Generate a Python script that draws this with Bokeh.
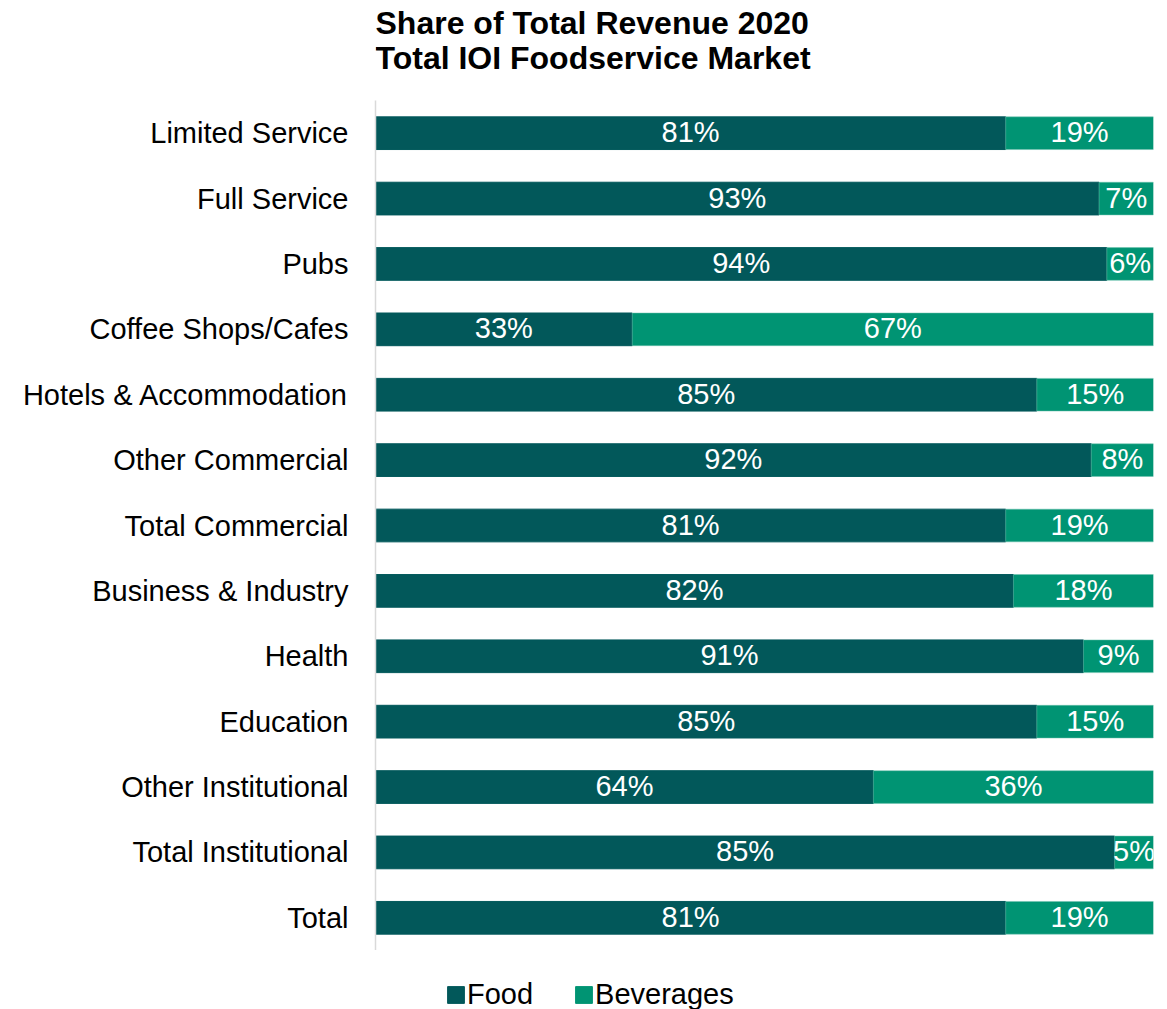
from bokeh.plotting import figure
from bokeh.models import ColumnDataSource, Legend, LegendItem, FactorRange
from bokeh.layouts import column
from bokeh.core.properties import value
from bokeh.embed import file_html
from bokeh.resources import INLINE

categories = ["Limited Service", "Full Service", "Pubs", "Coffee Shops/Cafes",
              "Hotels & Accommodation", "Other Commercial", "Total Commercial",
              "Business & Industry", "Health", "Education", "Other Institutional",
              "Total Institutional", "Total"]
food = [81, 93, 94, 33, 85, 92, 81, 82, 91, 85, 64, 95, 81]
beverages = [19, 7, 6, 67, 15, 8, 19, 18, 9, 15, 36, 5, 19]
food_labels = ["81%", "93%", "94%", "33%", "85%", "92%", "81%", "82%", "91%", "85%", "64%", "85%", "81%"]
bev_labels = ["19%", "7%", "6%", "67%", "15%", "8%", "19%", "18%", "9%", "15%", "36%", "5%", "19%"]
series_names = ["Food", "Beverages"]
title_lines = ["Share of Total Revenue 2020", "Total IOI Foodservice Market"]

FOOD_C = "#02585A"
BEV_C = "#009473"
FONT = "Liberation Sans"

# ---- title strip ----
tf = figure(width=1160, height=100, output_backend="svg", toolbar_location=None,
            x_range=(0, 778), y_range=(0, 100), min_border=0)
tf.axis.visible = False
tf.grid.visible = False
tf.outline_line_color = None
tsrc = ColumnDataSource(dict(x=[0, 0], y=[78, 43], t=title_lines))
tf.text(x="x", y="y", text="t", source=tsrc, text_font=value(FONT), text_font_size="32px",
        text_font_style="bold", text_color="#000000", text_align="left",
        text_baseline="alphabetic")

# ---- main chart ----
src = ColumnDataSource(dict(
    cat=categories,
    food_end=[f for f in food],
    bev_end=[f + b for f, b in zip(food, beverages)],
    food_mid=[f / 2 for f in food],
    bev_mid=[f + b / 2 for f, b in zip(food, beverages)],
    food_lab=food_labels,
    bev_lab=bev_labels,
))

p = figure(width=1160, height=850, output_backend="svg", toolbar_location=None,
           y_range=FactorRange(factors=list(reversed(categories)), range_padding=0),
           x_range=(0, 100))
p.min_border_left = 375
p.min_border_right = 7
p.min_border_top = 0
p.min_border_bottom = 0
p.outline_line_color = None
p.xgrid.visible = False
p.ygrid.visible = False
p.xaxis.visible = False

p.hbar(y="cat", left=0, right="food_end", height=0.5, color=FOOD_C, source=src)
p.hbar(y="cat", left="food_end", right="bev_end", height=0.5, color=BEV_C,
       line_color="#6fc2ae", line_width=0.5, source=src)

p.text(x="food_mid", y="cat", text="food_lab", source=src, text_color="white",
       text_align="center", text_baseline="middle", text_font=value(FONT),
       text_font_size="29px", y_offset=-1)
p.text(x="bev_mid", y="cat", text="bev_lab", source=src, text_color="white",
       text_align="center", text_baseline="middle", text_font=value(FONT),
       text_font_size="29px", y_offset=-1)

ax = p.yaxis[0]
ax.axis_line_color = "#D9D9D9"
ax.axis_line_width = 1.5
ax.major_tick_line_color = None
ax.minor_tick_line_color = None
ax.major_label_text_font = FONT
ax.major_label_text_font_size = "29px"
ax.major_label_text_color = "#000000"
ax.major_label_standoff = 21

# ---- legend strip ----
lf = figure(width=1160, height=59, output_backend="svg", toolbar_location=None,
            x_range=(0, 1), y_range=(0, 1), min_border=0)
lf.axis.visible = False
lf.grid.visible = False
lf.outline_line_color = None
leg_src = ColumnDataSource(dict(food=[food[-1]], bev=[beverages[-1]]))
rf = lf.hbar(y=0.5, left=0, right="food", height=1, color=FOOD_C, source=leg_src, visible=False)
rb = lf.hbar(y=0.5, left=0, right="bev", height=1, color=BEV_C, source=leg_src, visible=False)
legend = Legend(items=[LegendItem(label=series_names[0], renderers=[rf]),
                       LegendItem(label=series_names[1], renderers=[rb])],
                orientation="horizontal", location=(70, -2),
                label_text_font=FONT, label_text_font_size="29px", label_text_color="#000000",
                glyph_width=21, glyph_height=21, label_standoff=1, spacing=40,
                border_line_color=None, background_fill_alpha=0, padding=0, margin=0)
lf.add_layout(legend, "center")

layout = column(tf, p, lf, spacing=0)
open("out.html", "w").write(file_html(layout, INLINE))
